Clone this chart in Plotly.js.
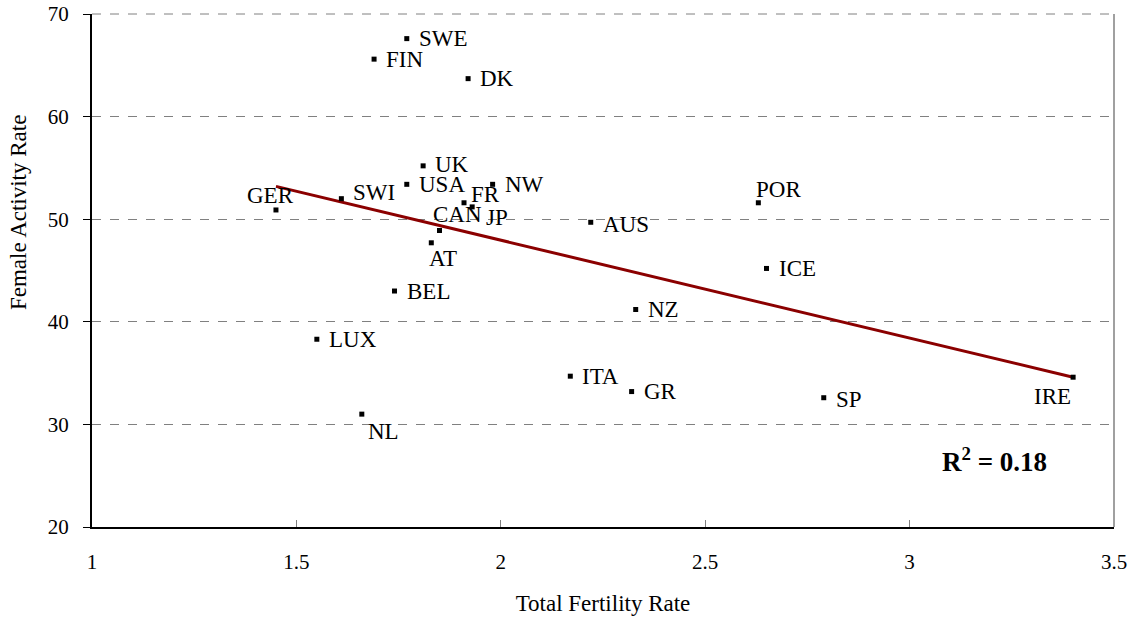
<!DOCTYPE html>
<html>
<head>
<meta charset="utf-8">
<script src="https://cdn.plot.ly/plotly-3.0.1.min.js"></script>
<style>html,body{margin:0;padding:0;background:#fff;}#chart{width:1135px;height:619px;}</style>
</head>
<body>
<div id="chart"></div>
<script>
// Data
const countries = ["SWE","FIN","DK","UK","USA","SWI","GER","FR","JP","NW","CAN","AT","BEL","LUX","NL","AUS","POR","ICE","NZ","ITA","GR","SP","IRE"];
const fertility = [1.77,1.69,1.92,1.81,1.77,1.61,1.45,1.91,1.93,1.98,1.85,1.83,1.74,1.55,1.66,2.22,2.63,2.65,2.33,2.17,2.32,2.79,3.40];
const activity  = [67.6,65.6,63.7,55.2,53.4,52.0,50.9,51.6,51.2,53.4,48.9,47.7,43.0,38.3,31.0,49.7,51.6,45.2,41.2,34.7,33.2,32.6,34.6];
const trendX = [1.45, 3.40];
const trendY = [53.2, 34.6];
const xTicks = [1, 1.5, 2, 2.5, 3, 3.5];
const xTickText = ["1","1.5","2","2.5","3","3.5"];
const yTicks = [20, 30, 40, 50, 60, 70];
const rSquaredText = "R<sup>2</sup> = 0.18";
const xTitle = "Total Fertility Rate";
const yTitle = "Female Activity Rate";

// label placement (pixel offsets from marker: [dx to text left edge, dy down])
const labelOffset = {
  GER:[-30,-14], SWI:[11,-6], FR:[6,-8], JP:[13,11], CAN:[-7,-16], AT:[-3,16],
  NL:[5,17], POR:[-3,-13], IRE:[-40,19], AUS:[11,2], SP:[11,2], UK:[11,-1]
};

const FONT = 'Liberation Serif, Times New Roman, serif';

const annotations = countries.map((c, i) => {
  const off = labelOffset[c] || [11, 0];
  return {
    x: fertility[i], y: activity[i], xref: 'x', yref: 'y',
    text: c, showarrow: false, xanchor: 'left', yanchor: 'middle',
    xshift: off[0], yshift: -off[1], borderpad: 0,
    font: {family: FONT, size: 23, color: '#000'}
  };
});
annotations.push({
  x: 0.8826, y: 0.1306, xref: 'paper', yref: 'paper', text: '<b>' + rSquaredText + '</b>',
  showarrow: false, xanchor: 'center', yanchor: 'middle',
  font: {family: FONT, size: 27, color: '#000'}
});
annotations.push({
  x: -0.0724, y: 0.612, xref: 'paper', yref: 'paper', text: yTitle, textangle: -90,
  showarrow: false, xanchor: 'center', yanchor: 'middle',
  font: {family: FONT, size: 23, color: '#000'}
});

const traces = [
  {
    x: trendX, y: trendY, mode: 'lines', type: 'scatter',
    line: {color: '#8B0000', width: 3}, hoverinfo: 'skip'
  },
  {
    x: fertility, y: activity, mode: 'markers', type: 'scatter',
    marker: {symbol: 'square', size: 5, color: '#000'}, text: countries
  }
];

const layout = {
  width: 1135, height: 619,
  margin: {l: 92, r: 21, t: 14, b: 92},
  paper_bgcolor: '#fff', plot_bgcolor: '#fff',
  showlegend: false,
  font: {family: FONT, color: '#000'},
  xaxis: {
    range: [1, 3.5], tickvals: xTicks, ticktext: xTickText,
    showgrid: false, zeroline: false,
    showline: true, linecolor: '#000', linewidth: 2,
    ticks: 'inside', ticklen: 7, tickcolor: '#808080', tickwidth: 1,
    ticklabelstandoff: 15,
    tickfont: {family: FONT, size: 21, color: '#000'},
    title: {text: xTitle, font: {family: FONT, size: 23, color: '#000'}, standoff: 22}
  },
  yaxis: {
    range: [20, 70], tickvals: yTicks,
    showgrid: true, gridcolor: '#808080', griddash: 'dash', gridwidth: 1,
    zeroline: false,
    showline: true, linecolor: '#000', linewidth: 2,
    ticks: 'outside', ticklen: 7, tickcolor: '#000', tickwidth: 1,
    ticklabelstandoff: 10,
    tickfont: {family: FONT, size: 21, color: '#000'}
  },
  shapes: [
    {type: 'line', xref: 'paper', yref: 'paper', x0: 1, x1: 1, y0: 0, y1: 1,
     line: {color: '#808080', width: 1.5}},
    {type: 'line', xref: 'paper', yref: 'paper', x0: 0, x1: 1, y0: 1, y1: 1,
     line: {color: '#808080', width: 1, dash: 'dash'}}
  ],
  annotations: annotations
};

Plotly.newPlot('chart', traces, layout, {displayModeBar: false, staticPlot: true});
</script>
</body>
</html>
